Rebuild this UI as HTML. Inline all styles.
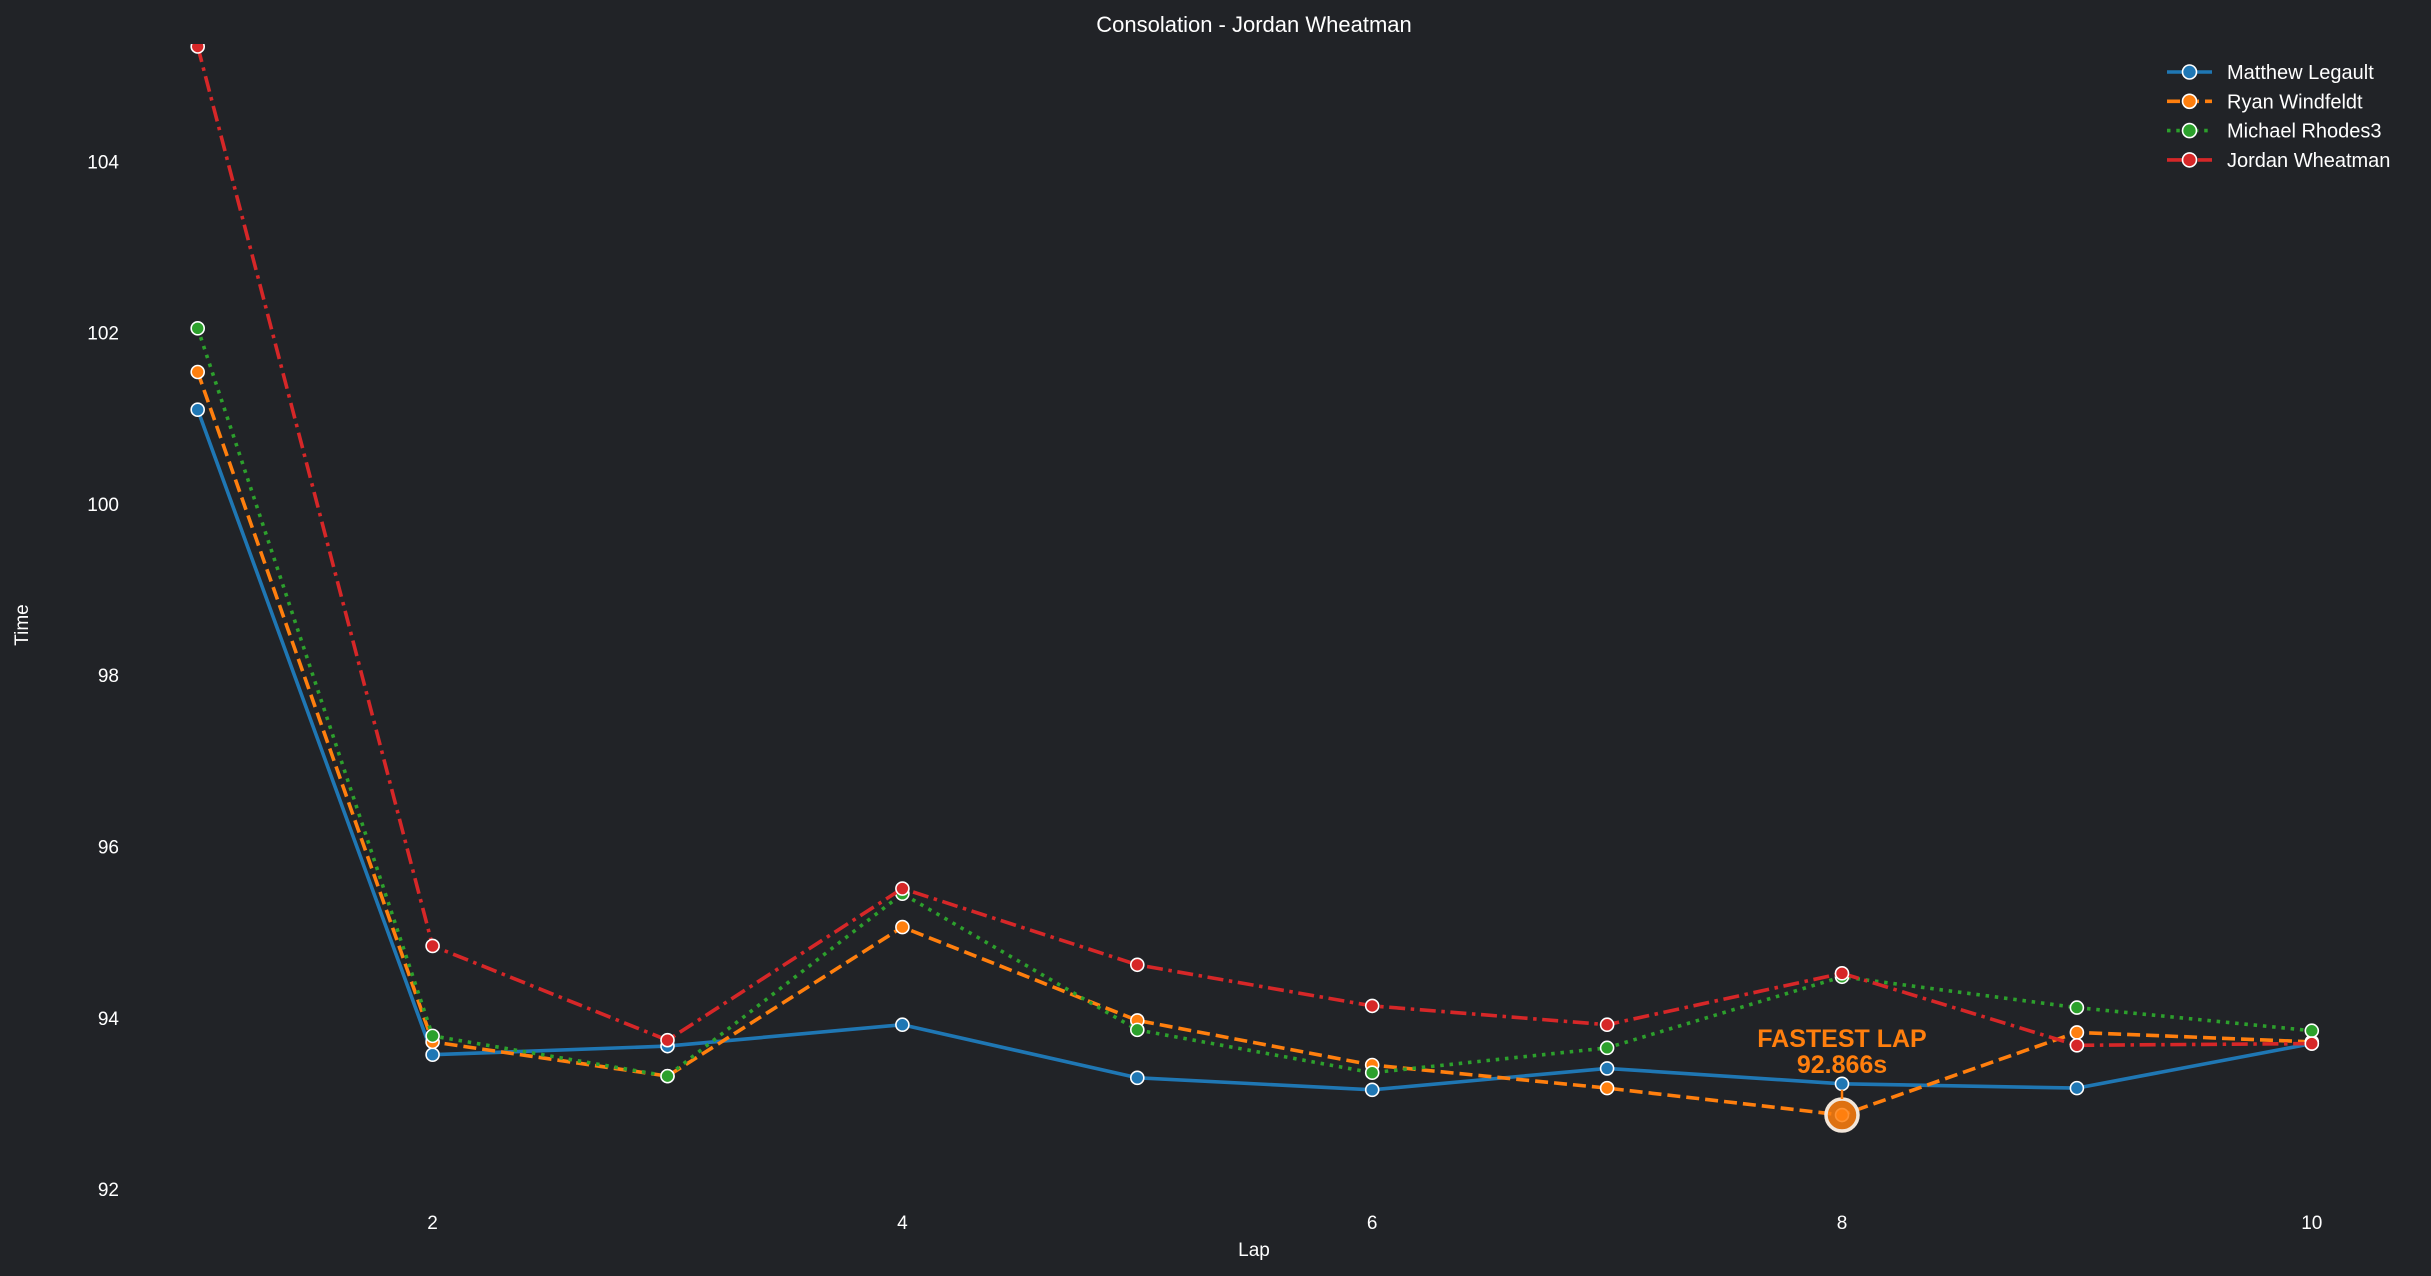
<!DOCTYPE html>
<html><head><meta charset="utf-8"><style>
html,body{margin:0;padding:0;background:#212327;}
svg{display:block;font-family:"Liberation Sans",Arial,sans-serif;}
</style></head><body>
<svg id="c" width="2431" height="1276" viewBox="0 0 2431 1276" xmlns="http://www.w3.org/2000/svg">
<defs><clipPath id="pa"><rect x="0" y="44" width="2431" height="1232"/></clipPath></defs>
<rect width="2431" height="1276" fill="#212327"/>
<text x="1254" y="32" fill="#fff" font-size="22" text-anchor="middle">Consolation - Jordan Wheatman</text>
<text x="1254" y="1256" fill="#fff" font-size="19" text-anchor="middle">Lap</text>
<text x="28" y="625" fill="#fff" font-size="19" text-anchor="middle" transform="rotate(-90 28 625)">Time</text>
<g id="ticks" fill="#fff" font-size="19"></g>
<g id="lines" clip-path="url(#pa)"></g>
<g id="ann">
<text x="1842" y="1047" fill="#ff7f0e" font-size="25" font-weight="bold" text-anchor="middle">FASTEST LAP</text>
<text x="1842" y="1073" fill="#ff7f0e" font-size="25" font-weight="bold" text-anchor="middle">92.866s</text>
</g>
<g id="leg" font-size="20" fill="#fff"></g>
</svg>
<script>
const X=l=>197.7+(l-1)*234.9, Y=v=>1189.2-(v-92)*85.66;
const ns="http://www.w3.org/2000/svg";
function el(p,t,a,txt){const e=document.createElementNS(ns,t);for(const k in a)e.setAttribute(k,a[k]);if(txt)e.textContent=txt;document.getElementById(p).appendChild(e);return e;}
[92,94,96,98,100,102,104].forEach(v=>el("ticks","text",{x:119,y:Y(v)+7,"text-anchor":"end"},String(v)));
[2,4,6,8,10].forEach(l=>el("ticks","text",{x:X(l),y:1229,"text-anchor":"middle"},String(l)));
const S=[
{n:"Matthew Legault",c:"#1f77b4",d:"",v:[101.10,93.57,93.67,93.92,93.30,93.16,93.41,93.23,93.18,93.70]},
{n:"Ryan Windfeldt",c:"#ff7f0e",d:"13,6",v:[101.54,93.72,93.32,95.06,93.97,93.45,93.18,92.866,93.83,93.72]},
{n:"Michael Rhodes3",c:"#2ca02c",d:"3.5,5.8",v:[102.05,93.79,93.32,95.45,93.86,93.36,93.65,94.48,94.12,93.85]},
{n:"Jordan Wheatman",c:"#d62728",d:"16,5.6,3.5,5.6",v:[105.34,94.84,93.74,95.51,94.62,94.14,93.92,94.52,93.68,93.70]}];
S.forEach(s=>{
 const pts=s.v.map((v,i)=>X(i+1).toFixed(1)+","+Y(v).toFixed(1)).join(" ");
 const a={points:pts,fill:"none",stroke:s.c,"stroke-width":3.6,"stroke-linejoin":"round"};
 if(s.d)a["stroke-dasharray"]=s.d;
 el("lines","polyline",a);
 s.v.forEach((v,i)=>el("lines","circle",{cx:X(i+1),cy:Y(v),r:6.5,fill:s.c,stroke:"#fff","stroke-width":1.6}));
});
el("ann","circle",{cx:X(8),cy:Y(92.866),r:16,fill:"#ff7f0e","fill-opacity":0.85,stroke:"#f2e6da","stroke-width":3.5});
el("ann","line",{x1:X(8),y1:Y(92.866)-16,x2:X(8),y2:Y(93.23)+6,stroke:"#ff7f0e","stroke-width":2.5});
S.forEach((s,i)=>{
 const y=72+i*29.3;
 const a={x1:2167,y1:y,x2:2212,y2:y,stroke:s.c,"stroke-width":3.6};
 if(s.d)a["stroke-dasharray"]=s.d;
 el("leg","line",a);
 el("leg","circle",{cx:2189.5,cy:y,r:7,fill:s.c,stroke:"#fff","stroke-width":1.6});
 el("leg","text",{x:2227,y:y+7},s.n);
});
</script>
</body></html>
